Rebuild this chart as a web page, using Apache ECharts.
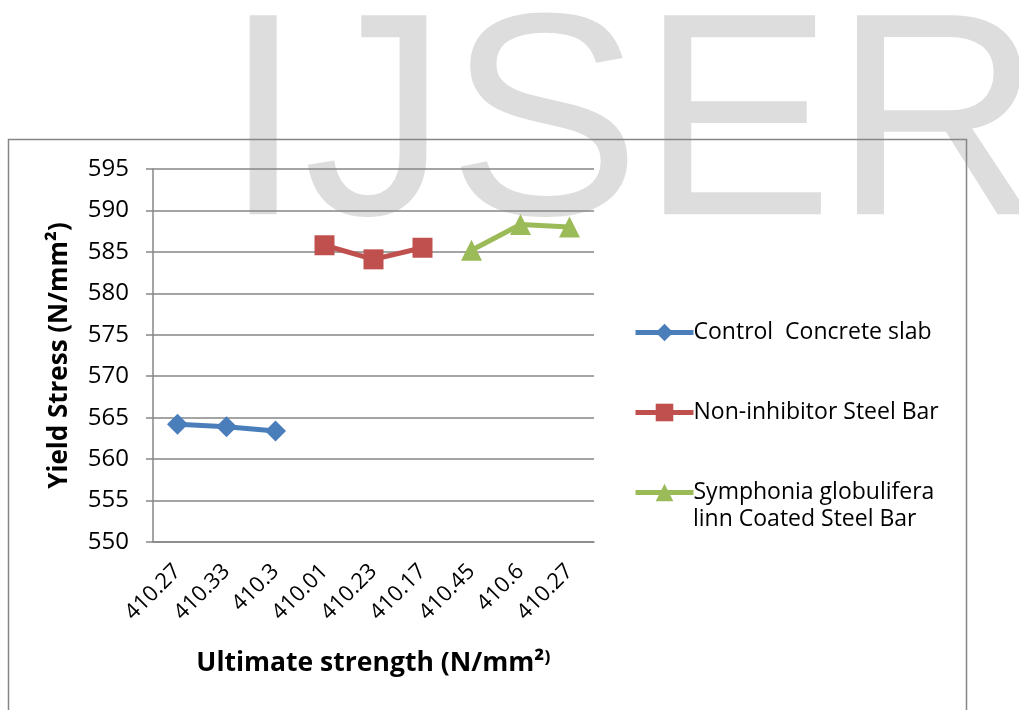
<!DOCTYPE html>
<html>
<head>
<meta charset="utf-8">
<script src="https://cdn.jsdelivr.net/npm/echarts@6/dist/echarts.min.js"></script>
<style>
  html, body { margin: 0; padding: 0; background: #ffffff; }
  #chart { width: 1019px; height: 710px; }
</style>
</head>
<body>
<div id="chart"></div>
<script>
// Ultimate strength readings (category labels along the x axis)
const categories = ['410.27', '410.33', '410.3', '410.01', '410.23', '410.17', '410.45', '410.6', '410.27'];

// Yield stress (N/mm²) for each group; null where the group has no reading
const controlSlab = [564.2, 563.9, 563.4, null, null, null, null, null, null];
const nonInhibitor = [null, null, null, 585.8, 584.1, 585.5, null, null, null];
const symphoniaCoated = [null, null, null, null, null, null, 585.2, 588.3, 588.0];

const seriesNames = ['Control  Concrete slab', 'Non-inhibitor Steel Bar', 'Symphonia globulifera'];
const legendSecondLine = 'linn Coated Steel Bar';

// y axis range
const yMin = 550, yMax = 595, yStep = 5;

const FONT = '"Open Sans", "Noto Sans", sans-serif';
const colors = ['#4A7EBB', '#C0504D', '#9BBB59'];

const chart = echarts.init(document.getElementById('chart'), null, { renderer: 'canvas' });

function lineSeries(name, data, symbol, size, color) {
  return {
    name: name,
    type: 'line',
    data: data,
    symbol: symbol,
    symbolSize: size,
    connectNulls: false,
    lineStyle: { color: color, width: 5 },
    itemStyle: { color: color },
    emphasis: { disabled: true },
    z: 3
  };
}

function legendAt(top, name) {
  return {
    data: [name],
    left: 628,
    top: top,
    orient: 'vertical',
    itemWidth: 58,
    itemHeight: 22,
    itemGap: 4,
    selectedMode: false,
    lineStyle: { width: 5 },
    textStyle: { fontFamily: FONT, fontSize: 23, color: '#000', padding: [0, 0, 0, -5] }
  };
}

const option = {
  backgroundColor: 'transparent',
  animation: false,
  graphic: [
    {
      type: 'text',
      z: -10,
      silent: true,
      style: {
        text: 'IJSER',
        font: '289px "Liberation Sans", Arial, sans-serif',
        fill: '#dddddd'
      },
      position: [223, -10]
    },
    {
      type: 'rect',
      z: -5,
      silent: true,
      shape: { x: 8.5, y: 139.5, width: 958, height: 620 },
      style: { fill: 'none', stroke: '#868686', lineWidth: 1.5 }
    },
    {
      type: 'text',
      silent: true,
      style: {
        text: legendSecondLine,
        font: '23px ' + FONT,
        fill: '#000'
      },
      position: [693, 508]
    }
  ],
  grid: { left: 153, right: 425, top: 169, bottom: 168, containLabel: false },
  legend: [
    legendAt(316, seriesNames[0]),
    legendAt(396, seriesNames[1]),
    legendAt(476, seriesNames[2])
  ],
  xAxis: {
    type: 'category',
    data: categories,
    boundaryGap: true,
    name: 'Ultimate strength (N/mm²⁾',
    nameLocation: 'middle',
    nameGap: 108,
    nameTextStyle: { fontFamily: FONT, fontSize: 26.5, fontWeight: 'bold', color: '#000' },
    axisLine: { show: true, lineStyle: { color: '#868686', width: 1.5 } },
    axisTick: { show: false },
    axisLabel: {
      rotate: 45,
      margin: 26,
      interval: 0,
      fontFamily: FONT,
      fontSize: 22,
      color: '#000'
    },
    splitLine: { show: false }
  },
  yAxis: {
    type: 'value',
    min: yMin,
    max: yMax,
    interval: yStep,
    name: 'Yield Stress (N/mm²)',
    nameLocation: 'middle',
    nameGap: 80,
    nameTextStyle: { fontFamily: FONT, fontSize: 26, fontWeight: 'bold', color: '#000' },
    axisLine: { show: true, lineStyle: { color: '#868686', width: 1.5 } },
    axisTick: { show: true, inside: false, length: 7, lineStyle: { color: '#868686', width: 1.5 } },
    axisLabel: { margin: 24, fontFamily: FONT, fontSize: 24, color: '#000' },
    splitLine: { show: true, lineStyle: { color: '#868686', width: 1.5 } }
  },
  series: [
    lineSeries(seriesNames[0], controlSlab, 'diamond', 21, colors[0]),
    lineSeries(seriesNames[1], nonInhibitor, 'rect', 20, colors[1]),
    lineSeries(seriesNames[2], symphoniaCoated, 'triangle', 21, colors[2])
  ]
};

chart.setOption(option);
</script>
</body>
</html>
